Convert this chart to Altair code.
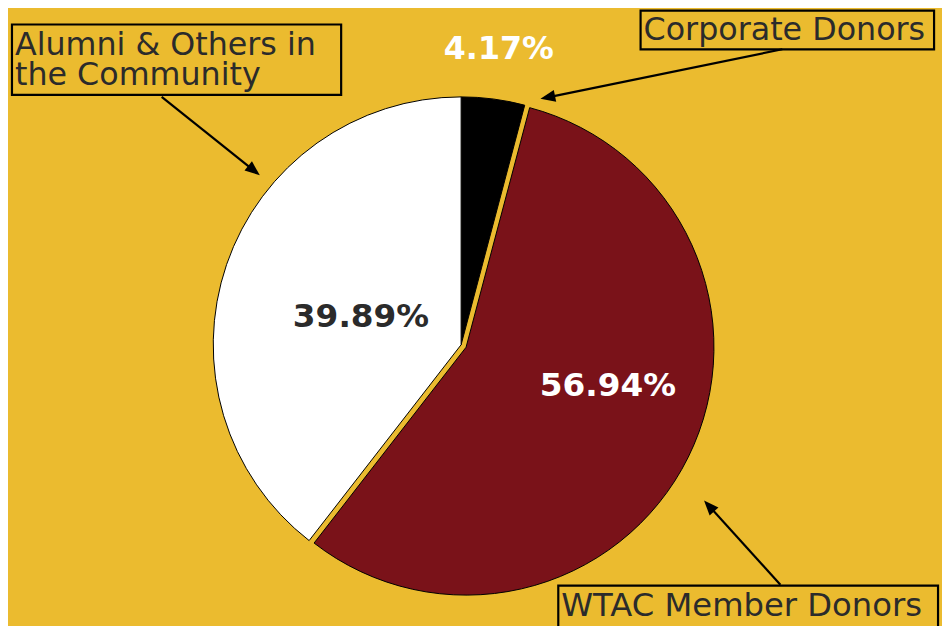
import altair as alt
import pandas as pd
import math

# ---- data ----
categories = ["Corporate Donors", "WTAC Member Donors", "Alumni & Others in the Community"]
values = [4.17, 56.94, 39.89]
pct_labels = ["4.17%", "56.94%", "39.89%"]
slice_colors = ["#000000", "#7A1219", "#FFFFFF"]
callout_lines = {
    "Corporate Donors": ["Corporate Donors"],
    "WTAC Member Donors": ["WTAC Member Donors"],
    "Alumni & Others in the Community": ["Alumni & Others in", "the Community"],
}

W, H = 942, 618
BG = "#EBBB2F"
FONT = "DejaVu Sans"
TXT = "#2B2B2B"
CX, CY, R = 457, 337, 250
EXPLODE = (5, 2.5)

df = pd.DataFrame({"category": categories, "value": values, "order": [0, 1, 2]})

pie = alt.Chart(df).mark_arc(radius=R, stroke="black", strokeWidth=1).encode(
    theta=alt.Theta("value:Q", stack=True),
    color=alt.Color("category:N", scale=alt.Scale(domain=categories, range=slice_colors), legend=None),
    order=alt.Order("order:Q"),
    x=alt.value({"expr": f"datum.category == '{categories[1]}' ? {CX + EXPLODE[0]} : {CX}"}),
    y=alt.value({"expr": f"datum.category == '{categories[1]}' ? {CY + EXPLODE[1]} : {CY}"}),
)

one = alt.Data(values=[{}])


def text_layer(txt, x, y, size, color, weight, align="left", line_height=None):
    kw = dict(text=txt, fontSize=size, font=FONT, fontWeight=weight, color=color,
              align=align, baseline="alphabetic")
    if line_height is not None:
        kw["lineHeight"] = line_height
    return alt.Chart(one).mark_text(**kw).encode(x=alt.value(x), y=alt.value(y))


def box(x1, y1, x2, y2):
    return alt.Chart(one).mark_rect(filled=False, stroke="black", strokeWidth=2.2).encode(
        x=alt.value(x1), x2=alt.value(x2), y=alt.value(y1), y2=alt.value(y2))


HEAD = "M0,0L-0.4,1L0.4,1Z"


def arrow(x1, y1, x2, y2):
    dx, dy = x2 - x1, y2 - y1
    ang = math.degrees(math.atan2(dx, -dy)) % 360
    L = math.hypot(dx, dy)
    sx, sy = x2 - dx / L * 10, y2 - dy / L * 10
    line = alt.Chart(one).mark_rule(color="black", strokeWidth=2.2).encode(
        x=alt.value(x1), y=alt.value(y1), x2=alt.value(sx), y2=alt.value(sy))
    head = alt.Chart(one).mark_point(shape=HEAD, filled=True, color="black", opacity=1,
                                     size=900, angle=round(ang, 1), strokeWidth=0).encode(
        x=alt.value(x2), y=alt.value(y2))
    return [line, head]


layers = [pie]
# percentage labels
layers.append(text_layer(pct_labels[0], 495, 49, 32, "#FFFFFF", "bold", align="center"))
layers.append(text_layer(pct_labels[1], 605, 389, 33, "#FFFFFF", "bold", align="center"))
layers.append(text_layer(pct_labels[2], 356, 319, 33, TXT, "bold", align="center"))

# category call-outs
layers.append(box(4, 14, 336, 85))
layers.append(text_layer(callout_lines[categories[2]], 7, 45, 32, TXT, "normal", line_height=30))
layers.append(box(638, 0, 934, 39))
layers.append(text_layer(callout_lines[categories[0]], 641, 30, 32, TXT, "normal"))
layers.append(box(555, 580, 938, 640))
layers.append(text_layer(callout_lines[categories[1]], 558, 611, 32.5, TXT, "normal"))

layers += arrow(155, 87, 254, 166)
layers += arrow(781, 39, 537, 89)
layers += arrow(779, 579, 702, 494)

chart = alt.layer(*layers).properties(
    width=W, height=H, background=BG, padding=0, autosize="none"
).configure_view(strokeWidth=0)

chart.save("out.html", embed_options={"renderer": "svg", "actions": False})
